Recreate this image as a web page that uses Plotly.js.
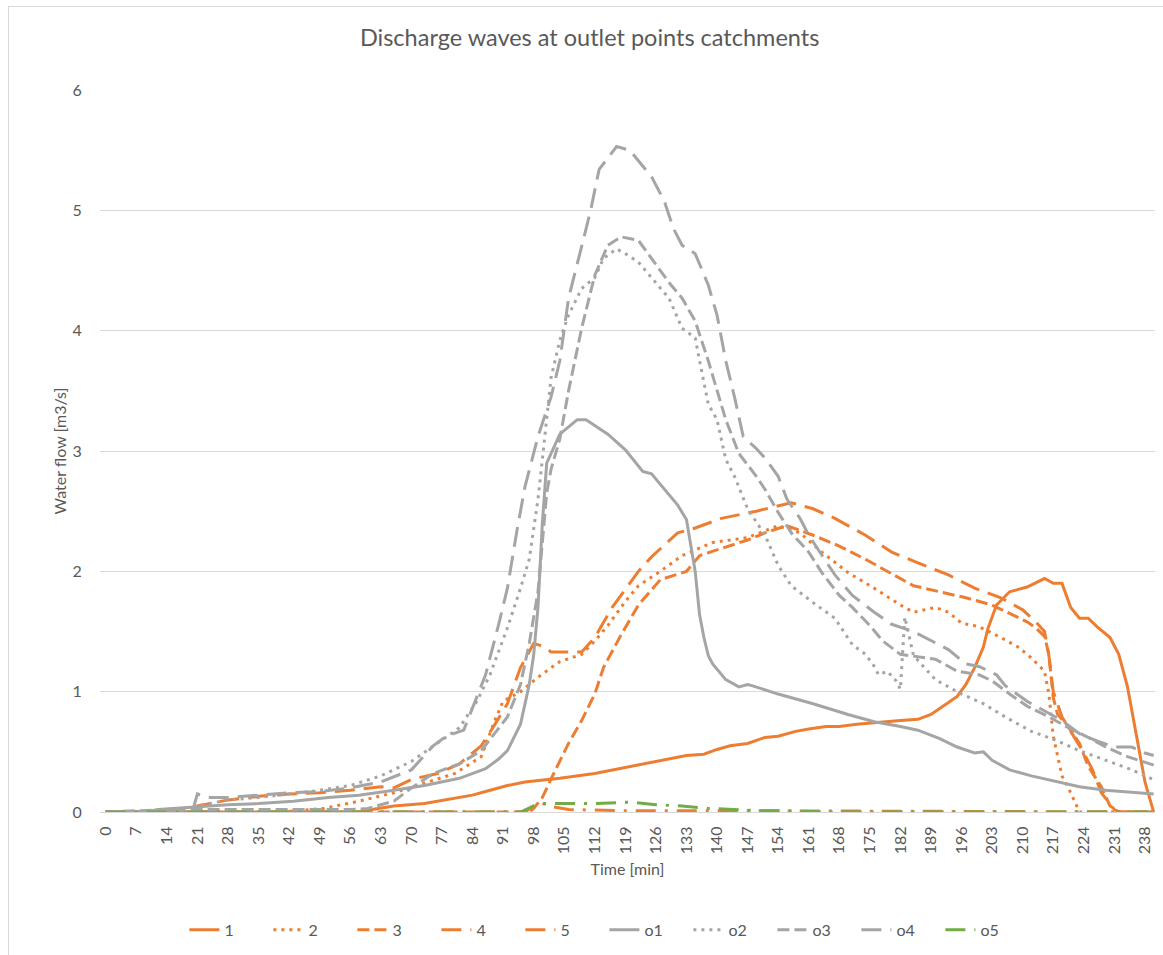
<!DOCTYPE html>
<html>
<head>
<meta charset="utf-8">
<script src="https://cdn.plot.ly/plotly-3.0.1.min.js"></script>
<style>
  html, body { margin: 0; padding: 0; background: #fff; }
  #frame { position: absolute; left: 8px; top: 6px; width: 1200px; height: 1000px; border: 1px solid #d9d9d9; box-sizing: border-box; }
  #chart { position: absolute; left: 0; top: 0; width: 1163px; height: 955px; }
  body { overflow: hidden; width: 1163px; height: 955px; }
</style>
</head>
<body>
<div id="frame"></div>
<div id="chart"></div>
<script>
// ---- data (time in minutes, flow in m3/s) ----
var xTickVals = [];
for (var k = 0; k <= 238; k += 7) xTickVals.push(k);
var xTickText = xTickVals.map(String);

var seriesNames = ["1", "2", "3", "4", "5", "o1", "o2", "o3", "o4", "o5"];

var t1 = [0,58,61,66,73,81,84,87,90,92,96,104,112,119,126,133,137,140,143,147,151,154,158,161,165,168,172,175,179,182,186,189,193,195,197,199,201,202,204,207,211,215,217,219,221,223,225,227,230,232,234,236,238,240];
var v1 = [0,0,0.02,0.05,0.07,0.12,0.14,0.17,0.2,0.22,0.25,0.28,0.32,0.37,0.42,0.47,0.48,0.52,0.55,0.57,0.62,0.63,0.67,0.69,0.71,0.71,0.73,0.74,0.75,0.76,0.77,0.81,0.91,0.96,1.06,1.2,1.37,1.52,1.72,1.83,1.87,1.94,1.9,1.9,1.7,1.61,1.61,1.54,1.45,1.31,1.04,0.63,0.25,0];

var t2 = [0,40,50,58,66,73,80,86,89,91,95,99,104,109,112,115,119,122,127,132,139,147,154,159,164,170,176,182,185,190,193,196,200,205,209,212,215,216,217,219,221,223,240];
var v2 = [0,0,0.03,0.09,0.16,0.24,0.32,0.46,0.75,0.92,1.0,1.12,1.25,1.31,1.42,1.55,1.75,1.88,2.0,2.13,2.24,2.28,2.38,2.32,2.16,1.99,1.86,1.72,1.66,1.7,1.66,1.57,1.54,1.45,1.37,1.28,1.17,0.98,0.63,0.3,0.16,0,0];

var t3 = [0,97,98,100,103,106,109,112,114,118,122,127,133,136,141,147,151,156,162,168,174,179,185,191,197,203,207,211,213,215,216,217,218,220,223,225,228,230,232,240];
var v3 = [0,0,0.03,0.12,0.35,0.57,0.76,0.98,1.2,1.47,1.72,1.93,2.0,2.13,2.19,2.26,2.32,2.38,2.3,2.21,2.1,2.0,1.88,1.83,1.78,1.72,1.65,1.58,1.53,1.46,1.31,0.95,0.81,0.73,0.57,0.38,0.21,0.05,0,0];

var t4 = [0,19,21,28,35,42,49,56,63,66,70,76,81,86,89,92,95,98,100,102,109,112,116,119,122,125,128,131,135,141,149,157,162,167,174,180,186,193,199,205,210,213,215,216,217,219,221,224,226,228,231,232,240];
var v4 = [0,0,0.05,0.1,0.13,0.15,0.16,0.18,0.21,0.2,0.27,0.32,0.4,0.55,0.72,0.9,1.2,1.4,1.38,1.33,1.33,1.45,1.7,1.85,2.0,2.12,2.22,2.32,2.36,2.44,2.5,2.57,2.52,2.44,2.3,2.16,2.07,1.97,1.86,1.78,1.68,1.58,1.5,1.3,1.0,0.79,0.67,0.49,0.35,0.16,0.02,0,0];

var t5 = [0,96,98,100,103,106,120,150,240];
var v5 = [0,0,0.05,0.07,0.04,0.02,0.01,0.01,0];

var to1 = [0,9,12,20,28,35,43,51,58,66,73,81,84,87,90,92,95,97,98,99,100,101,104,108,110,115,119,123,125,128,131,133,134,135,136,137,138,139,142,145,147,148,154,162,170,176,182,186,191,195,199,201,203,207,212,217,223,229,233,240];
var vo1 = [0,0,0.02,0.04,0.06,0.07,0.09,0.12,0.14,0.18,0.22,0.28,0.32,0.36,0.44,0.51,0.73,1.06,1.3,1.7,2.4,2.9,3.14,3.26,3.26,3.14,3.01,2.83,2.81,2.68,2.55,2.43,2.2,2.0,1.64,1.45,1.3,1.23,1.1,1.04,1.06,1.05,0.98,0.9,0.81,0.75,0.71,0.68,0.61,0.54,0.49,0.5,0.43,0.35,0.3,0.26,0.21,0.18,0.17,0.15];

var to2 = [0,12,21,28,35,42,49,56,63,70,77,81,85,88,92,95,97,99,100,102,104,106,109,112,114,117,119,122,125,129,132,135,136,138,140,142,144,147,151,154,157,162,167,171,174,176,177,179,181,182,183,185,190,196,201,206,212,218,223,229,235,240];
var vo2 = [0,0,0.05,0.1,0.12,0.15,0.18,0.22,0.3,0.42,0.6,0.7,0.92,1.14,1.53,1.86,2.1,2.6,2.93,3.61,3.92,4.13,4.35,4.44,4.6,4.68,4.64,4.57,4.44,4.27,4.02,3.94,3.75,3.39,3.26,2.93,2.79,2.52,2.3,2.05,1.88,1.74,1.61,1.39,1.31,1.21,1.14,1.17,1.09,1.02,1.62,1.3,1.1,0.98,0.9,0.79,0.67,0.59,0.51,0.43,0.35,0.27];

var to3 = [0,14,21,56,60,66,70,75,81,86,92,95,97,99,100,101,102,104,106,109,112,115,118,122,125,129,132,135,138,142,145,149,151,154,157,161,164,168,171,175,178,182,190,195,200,203,207,211,216,220,225,229,234,240];
var vo3 = [0,0.02,0.02,0.02,0.03,0.09,0.2,0.32,0.4,0.51,0.79,1.06,1.4,1.83,2.24,2.65,2.85,3.1,3.5,4.02,4.46,4.71,4.78,4.75,4.6,4.4,4.27,4.08,3.75,3.26,2.98,2.79,2.68,2.49,2.32,2.16,1.99,1.8,1.7,1.55,1.42,1.31,1.27,1.17,1.14,1.09,0.98,0.88,0.79,0.71,0.62,0.54,0.46,0.39];

var to4 = [0,19,20,21,24,28,35,42,49,56,63,70,75,78,82,85,87,90,92,94,96,99,102,104,106,109,111,113,117,120,125,128,130,132,134,135,138,140,142,144,146,149,151,154,156,159,161,164,167,171,176,180,185,193,197,200,204,206,211,219,223,227,231,235,238,240];
var vo4 = [0,0,0.02,0.15,0.12,0.12,0.14,0.16,0.17,0.2,0.25,0.35,0.55,0.63,0.68,0.95,1.14,1.56,1.86,2.3,2.7,3.12,3.45,3.75,4.27,4.7,4.99,5.34,5.53,5.5,5.28,5.07,4.85,4.71,4.66,4.64,4.38,4.13,3.75,3.45,3.12,3.02,2.94,2.79,2.6,2.44,2.3,2.13,1.97,1.8,1.66,1.56,1.5,1.35,1.23,1.21,1.14,1.05,0.92,0.76,0.65,0.59,0.54,0.54,0.49,0.47];

var to5 = [0,95,98,100,105,112,119,121,126,132,138,143,150,155,165,240];
var vo5 = [0,0,0.05,0.07,0.07,0.07,0.08,0.08,0.06,0.05,0.03,0.02,0.01,0.01,0,0];

// ---- styles ----
var ORANGE = "#ED7D31", GRAY = "#A5A5A5", GREEN = "#70AD47";
var DOT = "3px,5px", DASH = "12px,5px", LDASH = "20px,9px", LDASHDOT = "20px,9px,3px,9px";

var xs = [t1, t2, t3, t4, t5, to1, to2, to3, to4, to5];
var ys = [v1, v2, v3, v4, v5, vo1, vo2, vo3, vo4, vo5];
var colors = [ORANGE, ORANGE, ORANGE, ORANGE, ORANGE, GRAY, GRAY, GRAY, GRAY, GREEN];
var dashes = ["solid", DOT, DASH, LDASH, LDASHDOT, "solid", DOT, DASH, LDASH, LDASHDOT];

var traces = seriesNames.map(function (n, i) {
  return {
    type: "scatter", mode: "lines", name: n,
    x: xs[i], y: ys[i],
    line: { color: colors[i], width: 3, dash: dashes[i] },
    hoverinfo: "x+y+name"
  };
});

var FONT = "Lato, 'Open Sans', sans-serif";
var TXT = "#595959";
var FS = 16;

var layout = {
  width: 1163, height: 955,
  margin: { l: 100, r: 8, t: 90, b: 136 },
  paper_bgcolor: "rgba(0,0,0,0)", plot_bgcolor: "#fff",
  font: { family: FONT, color: TXT, size: FS },
  title: {
    text: "Discharge waves at outlet points catchments",
    font: { family: FONT, size: 23.5, color: TXT },
    xref: "container", x: 0.507, xanchor: "center",
    yref: "container", y: 1 - 38 / 955, yanchor: "middle"
  },
  xaxis: {
    range: [-1.3, 240.3],
    tickmode: "array", tickvals: xTickVals, ticktext: xTickText,
    tickangle: -90, ticks: "outside", ticklen: 7, tickcolor: "rgba(0,0,0,0)",
    showgrid: false, zeroline: false,
    showline: true, linecolor: "#d9d9d9", linewidth: 1,
    tickfont: { family: FONT, size: FS, color: TXT },
    title: { text: "Time [min]", font: { family: FONT, size: FS, color: TXT }, standoff: 10 },
    automargin: false
  },
  yaxis: {
    range: [0, 6], dtick: 1, tick0: 0,
    showgrid: true, gridcolor: "#d9d9d9", gridwidth: 1,
    zeroline: false, showline: false,
    ticks: "outside", ticklen: 14, tickcolor: "rgba(0,0,0,0)",
    tickfont: { family: FONT, size: FS, color: TXT },
    title: { text: "Water flow [m3/s]", font: { family: FONT, size: FS, color: TXT }, standoff: 1 },
    automargin: false
  },
  showlegend: true,
  legend: {
    orientation: "h",
    xref: "paper", x: 0.08, xanchor: "left",
    yref: "paper", y: (819 - 938) / 729, yanchor: "middle",
    font: { family: FONT, size: FS, color: TXT },
    entrywidth: 39, entrywidthmode: "pixels",
    bgcolor: "rgba(0,0,0,0)"
  }
};

Plotly.newPlot("chart", traces, layout, { displayModeBar: false, staticPlot: true });
</script>
</body>
</html>
